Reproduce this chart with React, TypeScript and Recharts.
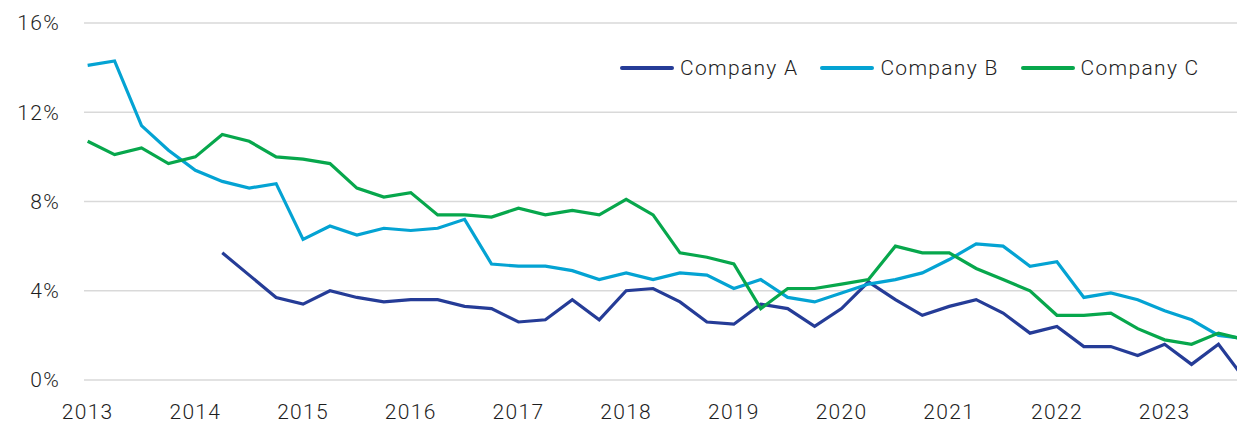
import { LineChart, Line, XAxis, YAxis, CartesianGrid } from "recharts";

const quarters = [
  2013, 2013.25, 2013.5, 2013.75, 2014, 2014.25, 2014.5, 2014.75,
  2015, 2015.25, 2015.5, 2015.75, 2016, 2016.25, 2016.5, 2016.75,
  2017, 2017.25, 2017.5, 2017.75, 2018, 2018.25, 2018.5, 2018.75,
  2019, 2019.25, 2019.5, 2019.75, 2020, 2020.25, 2020.5, 2020.75,
  2021, 2021.25, 2021.5, 2021.75, 2022, 2022.25, 2022.5, 2022.75,
  2023, 2023.25, 2023.5, 2023.75,
];

const companyA = [
  null, null, null, null, null, 5.7, 4.7, 3.7,
  3.4, 4.0, 3.7, 3.5, 3.6, 3.6, 3.3, 3.2,
  2.6, 2.7, 3.6, 2.7, 4.0, 4.1, 3.5, 2.6,
  2.5, 3.4, 3.2, 2.4, 3.2, 4.4, 3.6, 2.9,
  3.3, 3.6, 3.0, 2.1, 2.4, 1.5, 1.5, 1.1,
  1.6, 0.7, 1.6, 0.0,
];

const companyB = [
  14.1, 14.3, 11.4, 10.3, 9.4, 8.9, 8.6, 8.8,
  6.3, 6.9, 6.5, 6.8, 6.7, 6.8, 7.2, 5.2,
  5.1, 5.1, 4.9, 4.5, 4.8, 4.5, 4.8, 4.7,
  4.1, 4.5, 3.7, 3.5, 3.9, 4.3, 4.5, 4.8,
  5.4, 6.1, 6.0, 5.1, 5.3, 3.7, 3.9, 3.6,
  3.1, 2.7, 2.0, 1.85,
];

const companyC = [
  10.7, 10.1, 10.4, 9.7, 10.0, 11.0, 10.7, 10.0,
  9.9, 9.7, 8.6, 8.2, 8.4, 7.4, 7.4, 7.3,
  7.7, 7.4, 7.6, 7.4, 8.1, 7.4, 5.7, 5.5,
  5.2, 3.2, 4.1, 4.1, 4.3, 4.5, 6.0, 5.7,
  5.7, 5.0, 4.5, 4.0, 2.9, 2.9, 3.0, 2.3,
  1.8, 1.6, 2.1, 1.8,
];

const yearTicks = [2013, 2014, 2015, 2016, 2017, 2018, 2019, 2020, 2021, 2022, 2023];
const pctTicks = [0, 4, 8, 12, 16];

const SERIES = [
  { key: "a", name: "Company A", color: "#253c97" },
  { key: "b", name: "Company B", color: "#04a3d3" },
  { key: "c", name: "Company C", color: "#07a74c" },
];

const data = quarters.map((q, i) => ({
  q,
  a: companyA[i],
  b: companyB[i],
  c: companyC[i],
}));

const FONT = "Roboto, sans-serif";
const TEXT = "#1e1e1e";
const tickStyle = { fill: TEXT, fontSize: 21, fontFamily: FONT, fontWeight: 300, letterSpacing: 1.3 };

function LegendRow() {
  return (
    <div
      style={{
        position: "absolute",
        left: 620,
        top: 54,
        display: "flex",
        alignItems: "center",
        fontFamily: FONT,
        fontWeight: 300,
        fontSize: 21,
        letterSpacing: 1.3,
        color: TEXT,
        lineHeight: "28px",
      }}
    >
      {SERIES.map((s) => (
        <div key={s.key} style={{ display: "flex", alignItems: "center", marginRight: 22 }}>
          <span
            style={{ display: "inline-block", width: 54, height: 4, borderRadius: 2, background: s.color, marginRight: 6 }}
          />
          <span>{s.name}</span>
        </div>
      ))}
    </div>
  );
}

export default function App() {
  return (
    <div style={{ position: "absolute", left: 0, top: 0, width: 1238, height: 424, background: "#fff" }}>
      <LineChart width={1238} height={424} data={data} margin={{ top: 23, right: 1, bottom: 0, left: 0 }}>
        <CartesianGrid vertical={false} stroke="#d9d9d9" strokeWidth={1.5} />
        <XAxis
          dataKey="q"
          type="number"
          domain={[2012.966, 2023.672]}
          allowDataOverflow
          ticks={yearTicks}
          tickFormatter={(v: number) => String(v)}
          axisLine={false}
          tickLine={false}
          tickSize={0}
          tickMargin={24}
          height={44}
          tick={tickStyle}
        />
        <YAxis
          domain={[0, 16]}
          ticks={pctTicks}
          tickFormatter={(v: number) => `${v}%`}
          axisLine={false}
          tickLine={false}
          tickSize={0}
          tickMargin={24}
          width={84}
          tick={tickStyle}
        />
        {SERIES.map((s) => (
          <Line
            key={s.key}
            dataKey={s.key}
            name={s.name}
            stroke={s.color}
            strokeWidth={3.2}
            dot={false}
            activeDot={false}
            isAnimationActive={false}
          />
        ))}
      </LineChart>
      <LegendRow />
    </div>
  );
}
